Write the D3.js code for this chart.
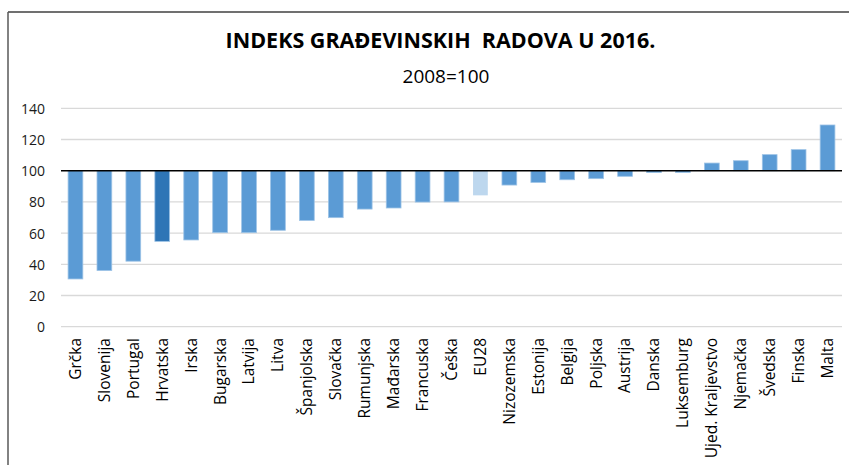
<!DOCTYPE html>
<html>
<head>
<meta charset="utf-8">
<script src="https://cdn.jsdelivr.net/npm/d3@7/dist/d3.min.js"></script>
<style>
  html, body { margin: 0; padding: 0; background: #fff; }
  svg { display: block; }
</style>
</head>
<body>
<svg id="chart" width="849" height="465"></svg>
<script>
const categories = ["Grčka","Slovenija","Portugal","Hrvatska","Irska","Bugarska","Latvija","Litva","Španjolska","Slovačka","Rumunjska","Mađarska","Francuska","Češka","EU28","Nizozemska","Estonija","Belgija","Poljska","Austrija","Danska","Luksemburg","Ujed. Kraljevstvo","Njemačka","Švedska","Finska","Malta"];
const values = [30.6, 36, 42, 54.7, 55.6, 60.3, 60.3, 61.8, 68.1, 69.9, 75.4, 76.1, 79.9, 80, 84.2, 90.8, 92.5, 94.2, 94.9, 96.4, 98.8, 98.9, 104.9, 106.4, 110.3, 113.5, 129.3];
const yTicks = [0, 20, 40, 60, 80, 100, 120, 140];
const baseline = 100;
const titleText = "INDEKS GRAĐEVINSKIH\u00A0 RADOVA U 2016.";
const subtitleText = "2008=100";

const svg = d3.select("#chart");
const W = 849, H = 465;
const plot = { left: 61, right: 842, top: 108.3, bottom: 326.7 };

// frame
svg.append("line").attr("x1", 8).attr("x2", W).attr("y1", 12).attr("y2", 12)
  .attr("stroke", "#404040").attr("stroke-width", 1.5);
svg.append("line").attr("x1", 8).attr("x2", 8).attr("y1", 12).attr("y2", H)
  .attr("stroke", "#595959").attr("stroke-width", 1.5);

const x = d3.scaleBand().domain(categories).range([plot.left, plot.right]).paddingInner(0.49).paddingOuter(0.245);
const y = d3.scaleLinear().domain([0, 140]).range([plot.bottom, plot.top]);

// gridlines
svg.append("g").selectAll("line").data(yTicks.filter(t => t !== baseline)).join("line")
  .attr("x1", plot.left).attr("x2", plot.right)
  .attr("y1", d => y(d)).attr("y2", d => y(d))
  .attr("stroke", "#d9d9d9").attr("stroke-width", 1.3);

// y axis labels
const yAxis = d3.axisLeft(y).tickValues(yTicks).tickSize(0).tickPadding(0);
const gy = svg.append("g").attr("transform", `translate(${45},0)`).call(yAxis);
gy.select(".domain").remove();
gy.selectAll("text").attr("font-family", "'Open Sans', sans-serif").attr("font-size", 14)
  .attr("fill", "#1a1a1a").attr("dy", "0.35em");

// bars
function color(c) {
  if (c === "Hrvatska") return "#2E75B6";
  if (c === "EU28") return "#BDD7EE";
  return "#5B9BD5";
}
svg.append("g").selectAll("rect").data(categories).join("rect")
  .attr("x", d => x(d))
  .attr("width", x.bandwidth())
  .attr("y", (d, i) => y(Math.max(values[i], baseline)))
  .attr("height", (d, i) => Math.abs(y(values[i]) - y(baseline)))
  .attr("fill", d => color(d))
  .attr("stroke", d => d === "EU28" ? "none" : "#9DC3E6")
  .attr("stroke-width", 0.8);

// baseline 100
svg.append("line").attr("x1", plot.left).attr("x2", plot.right)
  .attr("y1", y(baseline)).attr("y2", y(baseline))
  .attr("stroke", "#000").attr("stroke-width", 1.5);

// x axis labels
const xAxis = d3.axisBottom(x).tickSize(0).tickPadding(0);
const gx = svg.append("g").attr("transform", `translate(0,${338})`).call(xAxis);
gx.select(".domain").remove();
gx.selectAll("text")
  .attr("font-family", "'Open Sans', sans-serif").attr("font-size", 15.5).attr("fill", "#000")
  .attr("transform", "rotate(-90)")
  .attr("text-anchor", "end")
  .attr("x", 0).attr("y", 0).attr("dy", "0.35em");

// titles
svg.append("text").attr("x", 440.5).attr("y", 48).attr("text-anchor", "middle")
  .attr("font-family", "'Open Sans', sans-serif").attr("font-weight", "bold").attr("font-size", 21.5)
  .attr("fill", "#000").text(titleText);
svg.append("text").attr("x", 446).attr("y", 83).attr("text-anchor", "middle")
  .attr("font-family", "'Open Sans', sans-serif").attr("font-size", 19)
  .attr("fill", "#000").text(subtitleText);
</script>
</body>
</html>
